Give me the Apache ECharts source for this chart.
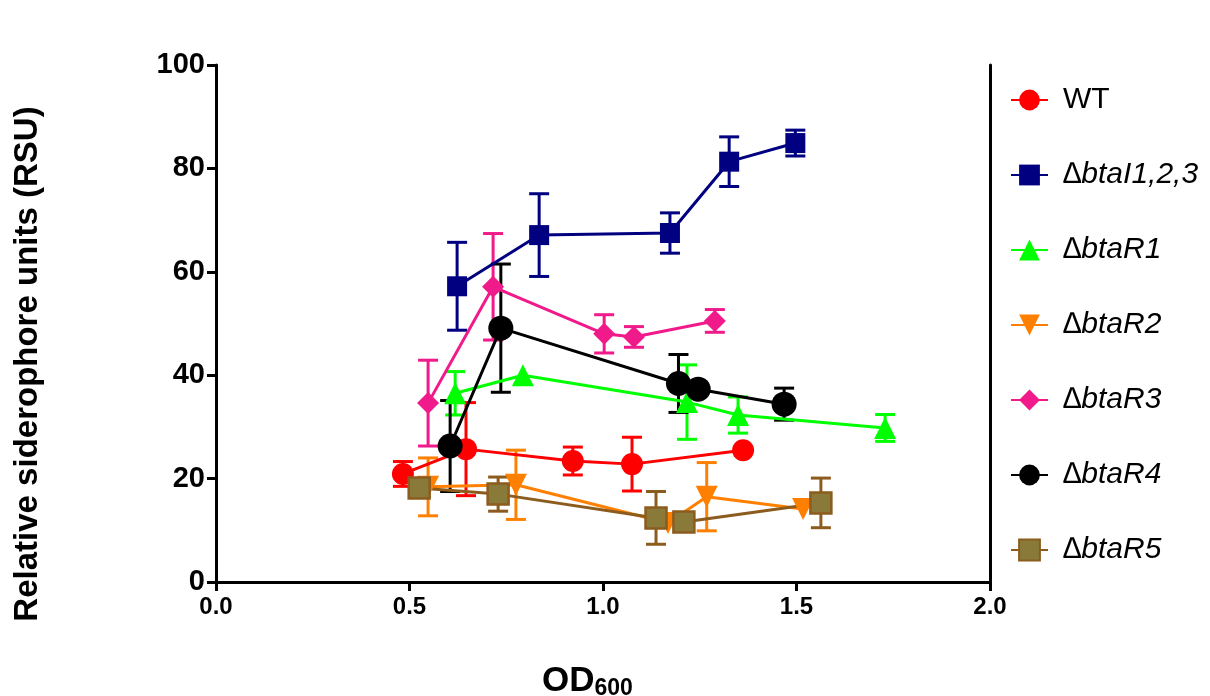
<!DOCTYPE html>
<html>
<head>
<meta charset="utf-8">
<script src="https://cdn.jsdelivr.net/npm/echarts@6/dist/echarts.min.js"></script>
<style>
  html, body { margin: 0; padding: 0; background: #fff; }
  #chart { width: 1210px; height: 696px; }
</style>
</head>
<body>
<div id="chart"></div>
<script>
// Siderophore production vs OD600

const xTicks = [0, 0.5, 1.0, 1.5, 2.0];
const yTicks = [0, 20, 40, 60, 80, 100];

const wtX = [0.483, 0.646, 0.922, 1.075, 1.362];
const wtY = [20.9, 25.7, 23.4, 22.8, 25.5];
const wtErr = [2.4, 9.0, 2.7, 5.2, 0];

const btaIX = [0.623, 0.835, 1.173, 1.326, 1.497];
const btaIY = [57.2, 67.1, 67.5, 81.3, 84.9];
const btaIErr = [8.5, 8.0, 3.9, 4.8, 2.5];

const r1X = [0.618, 0.793, 1.217, 1.349, 1.729];
const r1Y = [36.5, 40.0, 34.8, 32.3, 29.8];
const r1Err = [4.2, 0, 7.2, 3.5, 2.6];

const r2X = [0.548, 0.775, 1.168, 1.268, 1.517];
const r2Y = [18.4, 18.8, 11.4, 16.5, 14.1];
const r2Err = [5.6, 6.7, 0, 6.6, 0];

const r3X = [0.548, 0.716, 1.003, 1.080, 1.289];
const r3Y = [34.6, 57.1, 48.0, 47.4, 50.5];
const r3Err = [8.3, 10.3, 3.7, 2.0, 2.2];

const r4X = [0.605, 0.736, 1.195, 1.246, 1.468];
const r4Y = [26.3, 49.1, 38.4, 37.3, 34.4];
const r4Err = [8.8, 12.4, 5.6, 0, 3.1];

const r5X = [0.525, 0.729, 1.137, 1.209, 1.563];
const r5Y = [18.2, 17.0, 12.4, 11.6, 15.3];
const r5Err = [0, 3.3, 5.1, 0, 4.8];

const STRAINS = [
  { name: 'WT', x: wtX, y: wtY, err: wtErr, color: '#ff0000', symbol: 'circle', size: 22 },
  { name: '∆btaI1,2,3', x: btaIX, y: btaIY, err: btaIErr, color: '#000080', symbol: 'rect', size: 20 },
  { name: '∆btaR1', x: r1X, y: r1Y, err: r1Err, color: '#00ff00', symbol: 'triangle', size: 22 },
  { name: '∆btaR2', x: r2X, y: r2Y, err: r2Err, color: '#ff8000', symbol: 'triangle', rotate: 180, size: 22 },
  { name: '∆btaR3', x: r3X, y: r3Y, err: r3Err, color: '#f01a8a', symbol: 'diamond', size: 22 },
  { name: '∆btaR4', x: r4X, y: r4Y, err: r4Err, color: '#000000', symbol: 'circle', size: 25 },
  { name: '∆btaR5', x: r5X, y: r5Y, err: r5Err, color: '#8a7a3a', border: '#8c5c1e', symbol: 'rect', size: 21 },
];

function errorBars(s) {
  const data = [];
  s.x.forEach((x, i) => {
    if (s.err[i] > 0) data.push([x, s.y[i] - s.err[i], s.y[i] + s.err[i]]);
  });
  const stroke = s.border || s.color;
  return {
    type: 'custom',
    silent: true,
    z: 1,
    data,
    encode: { x: 0, y: [1, 2] },
    renderItem(params, api) {
      const x = api.value(0);
      const lo = api.coord([x, api.value(1)]);
      const hi = api.coord([x, api.value(2)]);
      const w = 10;
      const st = { stroke, lineWidth: 3 };
      return {
        type: 'group',
        children: [
          { type: 'line', shape: { x1: lo[0], y1: lo[1], x2: hi[0], y2: hi[1] }, style: st },
          { type: 'line', shape: { x1: lo[0] - w, y1: lo[1], x2: lo[0] + w, y2: lo[1] }, style: st },
          { type: 'line', shape: { x1: hi[0] - w, y1: hi[1], x2: hi[0] + w, y2: hi[1] }, style: st },
        ],
      };
    },
  };
}

function lineSeries(s) {
  return {
    type: 'line',
    name: s.name,
    z: 2,
    data: s.x.map((x, i) => [x, s.y[i]]),
    symbol: s.symbol,
    symbolSize: s.size,
    symbolRotate: s.rotate || 0,
    lineStyle: { color: s.border || s.color, width: 3 },
    itemStyle: s.border
      ? { color: s.color, borderColor: s.border, borderWidth: 2.5 }
      : { color: s.color },
    emphasis: { disabled: true },
  };
}

const series = [];
STRAINS.forEach(s => { series.push(errorBars(s)); series.push(lineSeries(s)); });

const chart = echarts.init(document.getElementById('chart'));
chart.setOption({
  animation: false,
  backgroundColor: '#fff',
  grid: { left: 216, right: 220, top: 65, bottom: 114 },
  xAxis: {
    type: 'value',
    min: xTicks[0],
    max: xTicks[xTicks.length - 1],
    interval: 0.5,
    axisLine: { lineStyle: { color: '#000', width: 3 } },
    axisTick: { show: true, length: 9, lineStyle: { color: '#000', width: 3 } },
    axisLabel: {
      color: '#000', fontFamily: 'Liberation Sans', fontWeight: 'bold', fontSize: 24, margin: 13,
      formatter: v => v.toFixed(1),
    },
    splitLine: { show: false },
  },
  yAxis: [{
    type: 'value',
    min: yTicks[0],
    max: yTicks[yTicks.length - 1],
    interval: 20,
    axisLine: { show: true, lineStyle: { color: '#000', width: 3 } },
    axisTick: { show: true, length: 9, lineStyle: { color: '#000', width: 3 } },
    axisLabel: { color: '#000', fontFamily: 'Liberation Sans', fontWeight: 'bold', fontSize: 29, margin: 11 },
    splitLine: { show: false },
  }, {
    type: 'value',
    position: 'right',
    min: 0, max: 100,
    axisLine: { show: true, lineStyle: { color: '#000', width: 3 } },
    axisTick: { show: false },
    axisLabel: { show: false },
    splitLine: { show: false },
  }],
  legend: {
    orient: 'vertical',
    left: 1005,
    top: 80,
    itemWidth: 37,
    itemHeight: 26,
    itemGap: 45,
    data: STRAINS.map(s => s.name),
    selectedMode: false,
    formatter: n => n === 'WT' ? `{n|${n}}` : `{i|${n}}`,
    textStyle: {
      color: '#000',
      padding: [0, 0, 0, 10],
      rich: {
        n: { fontFamily: 'Liberation Sans', fontSize: 30, color: '#000', lineHeight: 34 },
        i: { fontFamily: 'Liberation Sans', fontStyle: 'italic', fontSize: 30, color: '#000', lineHeight: 34 },
      },
    },
  },
  graphic: [
    {
      type: 'text',
      left: 542,
      top: 664,
      style: {
        text: '{a|OD}{b|600}',
        rich: {
          a: { fontFamily: 'Liberation Sans', fontWeight: 'bold', fontSize: 35, fill: '#000' },
          b: { fontFamily: 'Liberation Sans', fontWeight: 'bold', fontSize: 23, fill: '#000', verticalAlign: 'bottom', padding: [14, 0, 0, 0] },
        },
      },
    },
    {
      type: 'text',
      x: 11,
      y: 364,
      rotation: Math.PI / 2,
      style: {
        text: 'Relative siderophore units (RSU)',
        fontFamily: 'Liberation Sans', fontWeight: 'bold', fontSize: 33, fill: '#000',
        align: 'center', verticalAlign: 'top',
      },
    },
  ],
  series,
});
</script>
</body>
</html>
